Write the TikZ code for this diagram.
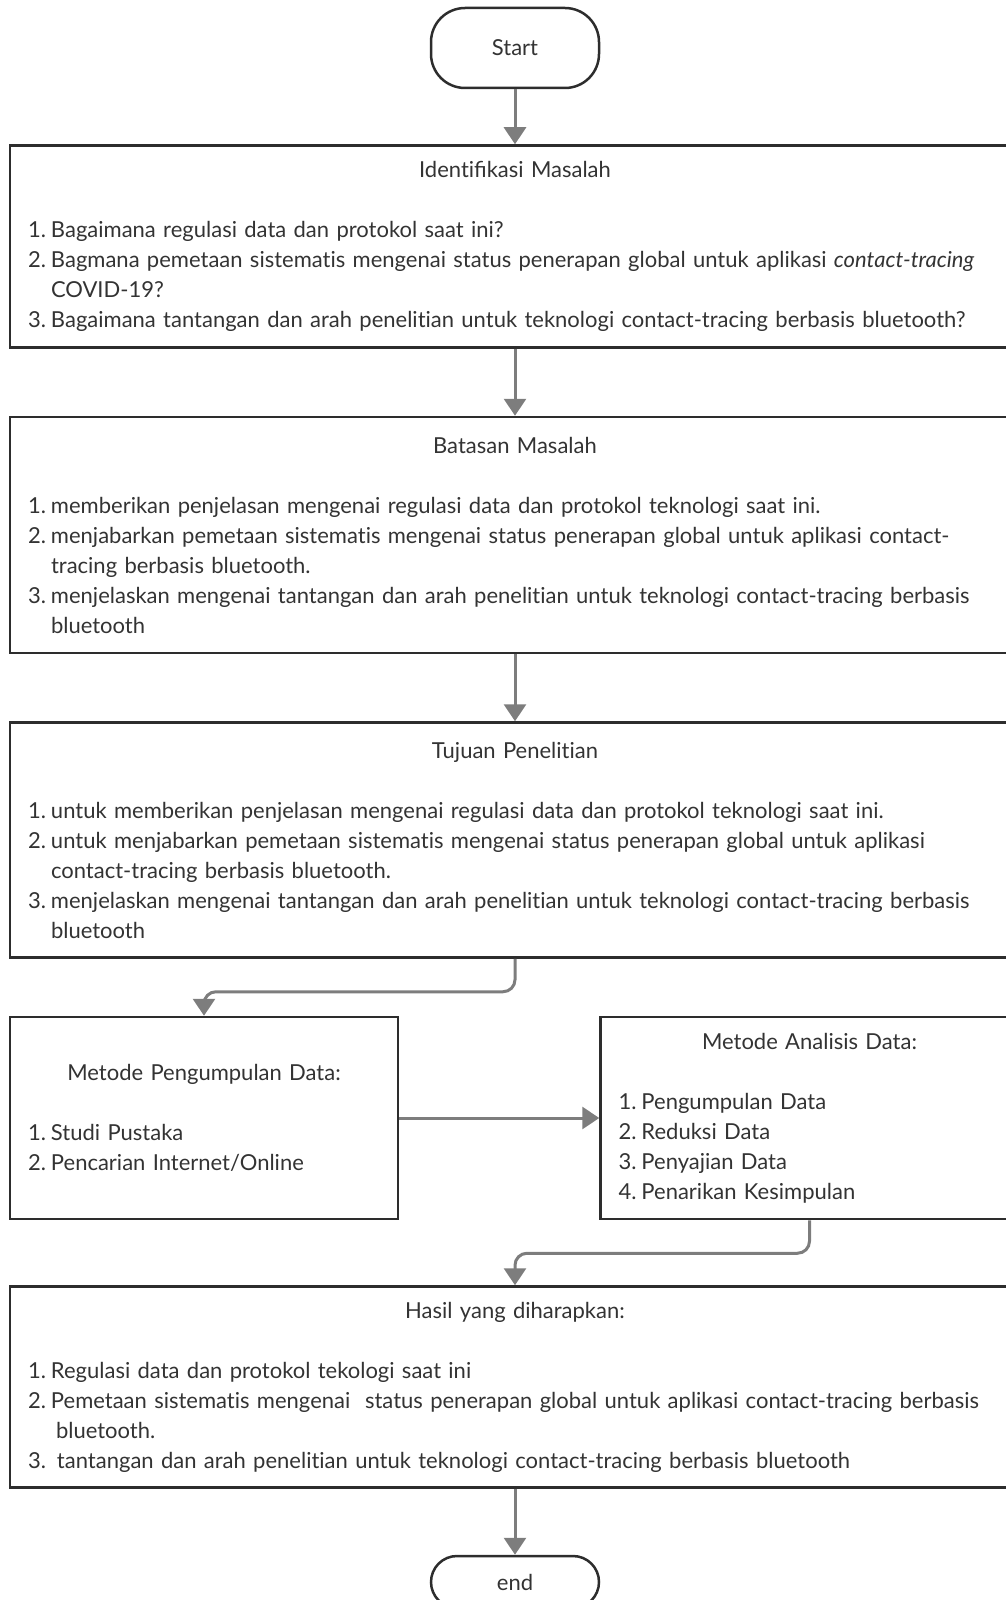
\documentclass[tikz,border=0pt]{standalone}
\usepackage{fontspec}
\setmainfont{Lato}[Ligatures=NoCommon]
\usetikzlibrary{positioning,arrows.meta}
\definecolor{boxline}{RGB}{45,45,45}
\definecolor{flowgray}{RGB}{125,125,125}
\definecolor{textgray}{RGB}{51,51,51}

\newcommand{\boxtitle}[1]{\noindent\makebox[\linewidth]{#1}\par\vspace{\baselineskip}}
\newcommand{\itm}[2]{\par\noindent\makebox[23pt][l]{#1}\mbox{#2}}
\newcommand{\cont}[1]{\par\noindent\hspace*{23pt}\mbox{#1}}

\tikzset{
  procbox/.style={draw=boxline, line width=2.5pt, rectangle, align=left, inner xsep=18pt, inner ysep=0pt,
    text=textgray, font=\fontsize{22}{30}\selectfont},
  termbox/.style={draw=boxline, line width=2.5pt, rounded corners=34pt, minimum width=168pt,
    text=textgray, font=\fontsize{22}{30}\selectfont},
  flowarrow/.style={draw=flowgray, line width=3pt, -{Triangle[width=22pt,length=17pt]}},
}

\begin{document}
\begin{tikzpicture}[x=1pt,y=-1pt]
\useasboundingbox (0,0) rectangle (1006,1600);
\clip (0,0) rectangle (1006,1600);

\node[termbox, minimum height=80pt] (start) at (515,48) {Start};

\node[procbox, text width=974pt, minimum height=202pt, below=55pt of start] (ident) {%
  \boxtitle{Identiﬁkasi Masalah}
  \itm{1.}{Bagaimana regulasi data dan protokol saat ini?}
  \itm{2.}{Bagmana pemetaan sistematis mengenai status penerapan global untuk aplikasi \textit{contact-tracing}}
  \cont{COVID-19?}
  \itm{3.}{Bagaimana tantangan dan arah penelitian untuk teknologi contact-tracing berbasis bluetooth?}
};

\node[procbox, text width=974pt, minimum height=236pt, below=67pt of ident] (batasan) {%
  \boxtitle{Batasan Masalah}
  \itm{1.}{memberikan penjelasan mengenai regulasi data dan protokol teknologi saat ini.}
  \itm{2.}{menjabarkan pemetaan sistematis mengenai status penerapan global untuk aplikasi contact-}
  \cont{tracing berbasis bluetooth.}
  \itm{3.}{menjelaskan mengenai tantangan dan arah penelitian untuk teknologi contact-tracing berbasis}
  \cont{bluetooth}
};

\node[procbox, text width=974pt, minimum height=235pt, below=67pt of batasan] (tujuan) {%
  \boxtitle{Tujuan Penelitian}
  \itm{1.}{untuk memberikan penjelasan mengenai regulasi data dan protokol teknologi saat ini.}
  \itm{2.}{untuk menjabarkan pemetaan sistematis mengenai status penerapan global untuk aplikasi}
  \cont{contact-tracing berbasis bluetooth.}
  \itm{3.}{menjelaskan mengenai tantangan dan arah penelitian untuk teknologi contact-tracing berbasis}
  \cont{bluetooth}
};

\node[procbox, text width=352pt, minimum height=202pt] (metkumpul) at (204,1118) {%
  \boxtitle{Metode Pengumpulan Data:}
  \itm{1.}{Studi Pustaka}
  \itm{2.}{Pencarian Internet/Online}
};

\node[procbox, text width=382pt, minimum height=202pt, right=200pt of metkumpul] (metanalisis) {%
  \boxtitle{Metode Analisis Data:}
  \itm{1.}{Pengumpulan Data}
  \itm{2.}{Reduksi Data}
  \itm{3.}{Penyajian Data}
  \itm{4.}{Penarikan Kesimpulan}
};

\node[procbox, text width=974pt, minimum height=201pt] (hasil) at (515,1387) {%
  \boxtitle{Hasil yang diharapkan:}
  \itm{1.}{Regulasi data dan protokol tekologi saat ini}
  \itm{2.}{Pemetaan sistematis mengenai~ status penerapan global untuk aplikasi contact-tracing berbasis}
  \par\noindent\hspace*{28pt}\mbox{bluetooth.}
  \itm{3.}{\hspace*{6pt}tantangan dan arah penelitian untuk teknologi contact-tracing berbasis bluetooth}
};

\node[termbox, rounded corners=26pt, minimum height=52pt, below=66pt of hasil] (finish) {end};

% connectors
\draw[flowarrow] (start) -- (ident);
\draw[flowarrow] (ident) -- (batasan);
\draw[flowarrow] (batasan) -- (tujuan);
\draw[flowarrow, rounded corners=12pt] (tujuan.south) -- ++(0,33) -| (metkumpul.north);
\draw[flowarrow] (metkumpul) -- (metanalisis);
\draw[flowarrow, rounded corners=12pt] (metanalisis.south) -- ++(0,33) -| (hasil.north);
\draw[flowarrow] (hasil) -- (finish);
\end{tikzpicture}
\end{document}
